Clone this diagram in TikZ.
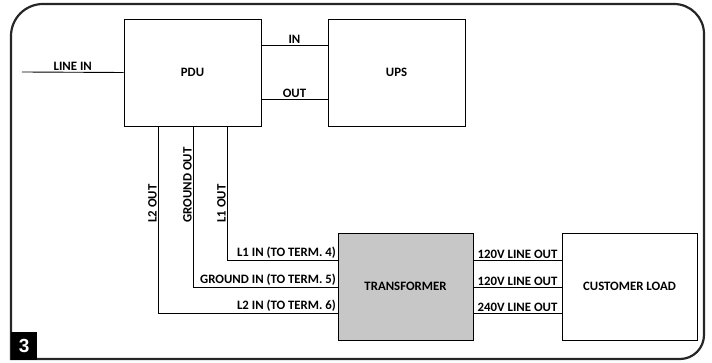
\documentclass[tikz,border=0pt]{standalone}
\usepackage{fontspec}
\setmainfont{Carlito}
\newfontfamily\badgefont{Liberation Sans}
\begin{document}
\begin{tikzpicture}[x=1pt,y=-1pt,
  wire/.style={line width=0.9pt},
  lbl/.style={font=\bfseries\fontsize{12.8}{14}\selectfont,inner sep=1.2pt},
  blk/.style={draw=black,line width=0.9pt,minimum height=107pt,inner sep=0pt,lbl},
]
\useasboundingbox (0,0) rectangle (712,363);
% frame
\draw[line width=2.2pt,color=black!85] (11,359) -- (11,36) arc[start angle=180,end angle=270,radius=32] -- (674,4)
  arc[start angle=270,end angle=360,radius=30] -- (704,335) arc[start angle=0,end angle=90,radius=24] -- cycle;
\node[fill=black,minimum width=26pt,minimum height=28pt,inner sep=0pt,anchor=north west,text=white,font=\badgefont\bfseries\fontsize{19}{20}\selectfont] (badge) at (11,332) {3};
% boxes
\node[blk,minimum width=137pt] (pdu) at (192.5,72.5) {PDU};
\node[blk,minimum width=137pt] (ups) at (396.5,72.5) {UPS};
\node[blk,minimum width=135pt,fill=black!22] (tr) at (405.5,286.5) {TRANSFORMER};
\node[blk,minimum width=135pt] (load) at (629.5,286.5) {CUSTOMER LOAD};
% line in
\coordinate (lin) at (22,72);
\draw[wire] (lin) -- (pdu.west) node[lbl,midway,above] {LINE IN};
% PDU-UPS
\draw[wire] (pdu.east |- 0,45) -- (ups.west |- 0,45) node[lbl,midway,above] {IN};
\draw[wire] (pdu.east |- 0,99) -- (ups.west |- 0,99) node[lbl,midway,above] {OUT};
% verticals
\draw[wire] (pdu.south -| 227,0) -- (227,260) -- (tr.west |- 0,260) node[lbl,pos=1,anchor=south east] {L1 IN (TO TERM. 4)};
\draw[wire] (pdu.south -| 193,0) -- (193,287) -- (tr.west |- 0,287) node[lbl,pos=1,anchor=south east] {GROUND IN (TO TERM. 5)};
\draw[wire] (pdu.south -| 158,0) -- (158,313) -- (tr.west |- 0,313) node[lbl,pos=1,anchor=south east] {L2 IN (TO TERM. 6)};
\node[lbl,rotate=90,anchor=south west] (l1o) at (227,224) {L1 OUT};
\node[lbl,rotate=90,anchor=south west] (gno) at (193,224) {GROUND OUT};
\node[lbl,rotate=90,anchor=south west] (l2o) at (158,224) {L2 OUT};
% outputs
\draw[wire] (tr.east |- 0,260) -- (load.west |- 0,260) node[lbl,midway,above] {120V LINE OUT};
\draw[wire] (tr.east |- 0,287) -- (load.west |- 0,287) node[lbl,midway,above] {120V LINE OUT};
\draw[wire] (tr.east |- 0,313) -- (load.west |- 0,313) node[lbl,midway,above] {240V LINE OUT};
\end{tikzpicture}
\end{document}
